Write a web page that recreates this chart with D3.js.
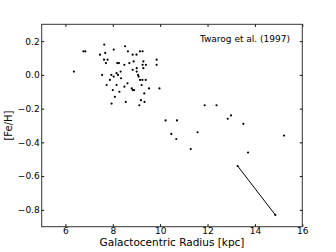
<!DOCTYPE html>
<html><head><meta charset="utf-8">
<script src="https://cdn.jsdelivr.net/npm/d3@7"></script>
<style>body{margin:0;background:#fff}svg{display:block}text{font-family:"DejaVu Sans",sans-serif}</style>
</head><body>
<script>
const radius = [6.36,6.76,6.84,7.46,7.64,7.68,7.63,7.78,7.71,7.55,7.74,7.88,7.94,8.04,8.04,8.0,8.09,7.95,8.16,8.22,8.19,8.26,8.16,8.28,8.33,8.35,8.49,8.52,8.55,8.49,8.62,8.64,8.70,8.84,8.88,8.84,9.0,8.80,8.84,8.90,9.01,9.01,9.07,9.09,9.15,9.12,9.15,9.26,9.26,9.29,9.29,9.19,9.22,9.25,9.33,9.34,9.39,9.40,9.53,9.85,9.85,9.97,10.23,10.47,10.71,10.68,11.29,11.58,11.88,12.38,12.85,12.99,13.51,13.71,15.23];
const feh = [0.02,0.14,0.14,0.12,0.18,0.13,0.09,0.09,0.07,0.0,-0.06,-0.03,0.0,-0.01,0.15,-0.09,-0.13,-0.17,0.01,0.0,0.07,0.07,-0.06,-0.10,0.02,-0.02,0.06,0.17,-0.16,-0.07,-0.05,0.14,0.07,0.03,0.08,0.12,0.12,-0.08,-0.09,-0.09,0.04,0.02,0.0,-0.01,-0.03,-0.18,0.14,0.14,0.06,0.04,0.08,-0.15,-0.06,-0.03,-0.11,-0.16,-0.03,0.06,-0.08,0.09,0.06,-0.08,-0.27,-0.35,-0.27,-0.38,-0.44,-0.34,-0.18,-0.18,-0.26,-0.24,-0.29,-0.46,-0.36];
const segRadius = [13.27,14.86];
const segFeh = [-0.54,-0.83];
const xTicks = [6,8,10,12,14,16];
const yTicks = [-0.8,-0.6,-0.4,-0.2,0.0,0.2];
const annotation = "Twarog et al. (1997)";
const xTitle = "Galactocentric Radius [kpc]";
const yTitle = "[Fe/H]";

const W=336,H=252, L=41.7, R=302.3, T=24.3, B=226.7;
const svg=d3.select("body").append("svg").attr("width",W).attr("height",H);
const x=d3.scaleLinear().domain([5,16]).range([L,R]);
const y=d3.scaleLinear().domain([-0.9,0.3]).range([B,T]);
const fmt=d=>(d<0?"\u2212":"")+Math.abs(d).toFixed(1);

svg.append("g").attr("transform",`translate(0,${B})`)
  .call(d3.axisBottom(x).tickValues(xTicks).tickSize(-2.5).tickPadding(1.2).tickFormat(d3.format("d")))
  .call(g=>{g.select(".domain").remove();g.selectAll("text").attr("font-size",9).attr("fill","#000");});
svg.append("g").attr("transform",`translate(0,${T})`)
  .call(d3.axisTop(x).tickValues(xTicks).tickSize(-2.5).tickFormat(""))
  .call(g=>g.select(".domain").remove());
svg.append("g").attr("transform",`translate(${L},0)`)
  .call(d3.axisLeft(y).tickValues(yTicks).tickSize(-2.5).tickPadding(2).tickFormat(fmt))
  .call(g=>{g.select(".domain").remove();g.selectAll("text").attr("font-size",9).attr("fill","#000");});
svg.append("g").attr("transform",`translate(${R},0)`)
  .call(d3.axisRight(y).tickValues(yTicks).tickSize(-2.5).tickFormat(""))
  .call(g=>g.select(".domain").remove());

svg.append("rect").attr("x",L).attr("y",T).attr("width",R-L).attr("height",B-T)
  .attr("fill","none").attr("stroke","#333").attr("stroke-width",1);

svg.append("line").attr("x1",x(segRadius[0])).attr("y1",y(segFeh[0]))
  .attr("x2",x(segRadius[1])).attr("y2",y(segFeh[1])).attr("stroke","#000").attr("stroke-width",1);
svg.append("g").selectAll("circle").data(segRadius).join("circle")
  .attr("cx",d=>x(d)).attr("cy",(d,i)=>y(segFeh[i])).attr("r",1.1).attr("fill","#000");

svg.append("g").selectAll("circle").data(radius).join("circle")
  .attr("cx",d=>x(d)).attr("cy",(d,i)=>y(feh[i])).attr("r",1.1).attr("fill","#000");

svg.append("text").attr("x",290).attr("y",41.5).attr("text-anchor","end").attr("font-size",9).text(annotation);
svg.append("text").attr("x",(L+R)/2).attr("y",245.5).attr("text-anchor","middle").attr("font-size",10.5).text(xTitle);
svg.append("text").attr("transform",`translate(12,${(T+B)/2}) rotate(-90)`).attr("text-anchor","middle").attr("font-size",10).text(yTitle);
</script>
</body></html>
